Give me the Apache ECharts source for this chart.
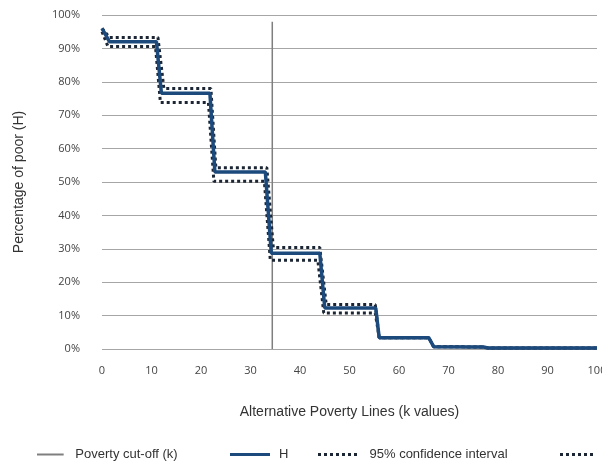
<!DOCTYPE html>
<html>
<head>
<meta charset="utf-8">
<script src="https://cdn.jsdelivr.net/npm/echarts@6/dist/echarts.min.js"></script>
<style>
html,body{margin:0;padding:0;background:#fff;}
#c{width:602px;height:463px;}
</style>
</head>
<body>
<div id="c"></div>
<script>
// Data
var cutoffK = 34.4;
var cutoffTop = 98;
var hK     = [0, 1.5, 11, 12, 21.8, 22.8, 33, 34.2, 44, 45, 55.3, 56, 66, 67, 77, 78, 100];
var hVal   = [96, 92, 92, 76.6, 76.6, 53, 53, 28.7, 28.7, 12.3, 12.3, 3.4, 3.4, 0.7, 0.6, 0.3, 0.3];
var upK    = [0, 1.5, 11.3, 12.5, 22, 23, 33.3, 34.6, 44, 45.3, 55.2, 56, 66, 67, 77, 78, 100];
var upVal  = [96, 93.3, 93.3, 78, 78, 54.3, 54.3, 30.4, 30.4, 13.3, 13.3, 3.4, 3.4, 0.7, 0.6, 0.3, 0.3];
var loK    = [0, 1.2, 10.8, 11.8, 21.5, 22.6, 32.8, 34, 43.6, 44.8, 55.2, 56, 66, 67, 77, 78, 100];
var loVal  = [95, 90.6, 90.6, 73.8, 73.8, 50.2, 50.2, 26.6, 26.6, 10.8, 10.8, 3.4, 3.4, 0.7, 0.6, 0.3, 0.3];
var xTicks = [0, 10, 20, 30, 40, 50, 60, 70, 80, 90, 100];
var yTicks = [0, 10, 20, 30, 40, 50, 60, 70, 80, 90, 100];

function pairs(xs, ys){ return xs.map(function(x,i){ return [x, ys[i]]; }); }

var chart = echarts.init(document.getElementById('c'));
var dotColor = '#1b2533';
var hColor = '#1c4a7c';
var lblFont = '"Open Sans", "DejaVu Sans", sans-serif';
function legendText(padLeft){
  return {fontFamily: '"Liberation Sans", Arial, sans-serif', fontSize: 13, color: '#333', padding: [0, 0, 0, padLeft]};
}
var solidIcon = 'path://M0,0L40,0L40,3L0,3Z';
var dotIcon = 'path://M0,0h3v3h-3z M6,0h3v3h-3z M12,0h3v3h-3z M18,0h3v3h-3z M24,0h3v3h-3z M30,0h3v3h-3z M36,0h3v3h-3z';
var dotIcon6 = 'path://M0,0h3v3h-3z M6,0h3v3h-3z M12,0h3v3h-3z M18,0h3v3h-3z M24,0h3v3h-3z M30,0h3v3h-3z';
chart.setOption({
  animation: false,
  backgroundColor: '#fff',
  grid: {left: 102, right: 5, top: 15, bottom: 114, containLabel: false, outerBoundsMode: 'none'},
  xAxis: {
    type: 'value', min: 0, max: 100, interval: 10,
    axisLine: {show: false}, axisTick: {show: false},
    splitLine: {show: false},
    axisLabel: {margin: 16, fontSize: 11, color: '#444', fontFamily: lblFont,
      formatter: function(v){ return xTicks.indexOf(v) >= 0 ? String(v) : ''; }},
    name: 'Alternative Poverty Lines (k values)',
    nameLocation: 'middle', nameGap: 56,
    nameTextStyle: {fontSize: 14, color: '#333', fontFamily: '"Liberation Sans", Arial, sans-serif'}
  },
  yAxis: {
    type: 'value', min: 0, max: 100, interval: 10,
    axisLine: {show: false}, axisTick: {show: false},
    splitLine: {show: true, lineStyle: {color: '#a6a6a6', width: 1}},
    axisLabel: {margin: 22, fontSize: 11, color: '#444', fontFamily: lblFont,
      formatter: function(v){ return yTicks.indexOf(v) >= 0 ? v + '%' : ''; }},
    name: 'Percentage of poor (H)',
    nameLocation: 'middle', nameGap: 76,
    nameTextStyle: {fontSize: 14, color: '#333', fontFamily: '"Liberation Sans", Arial, sans-serif'}
  },
  legend: [
    {data: [{name: 'Poverty cut-off (k)', icon: solidIcon, itemStyle: {color: '#7f7f7f'}}], left: 32, top: 443, itemWidth: 30, itemHeight: 2, textStyle: legendText(5)},
    {data: [{name: 'H', icon: solidIcon, itemStyle: {color: hColor}}], left: 225, top: 443, itemWidth: 48, itemHeight: 3, itemGap: 0, textStyle: legendText(0)},
    {data: [{name: '95% confidence interval', icon: dotIcon, itemStyle: {color: dotColor}}], left: 313, top: 443, itemWidth: 52, itemHeight: 3, textStyle: legendText(1)},
    {data: [{name: ' ', icon: dotIcon6, itemStyle: {color: dotColor}}], left: 555, top: 443, itemWidth: 44, itemHeight: 3, textStyle: legendText(0)}
  ],
  series: [
    {name: 'Poverty cut-off (k)', type: 'line', symbol: 'none', z: 1,
     data: [[cutoffK, 0], [cutoffK, cutoffTop]],
     lineStyle: {color: '#7f7f7f', width: 1.5}, itemStyle: {color: '#7f7f7f'}},
    {name: '95% confidence interval', type: 'line', symbol: 'none', z: 2,
     data: pairs(upK, upVal),
     lineStyle: {color: dotColor, width: 3, type: [3, 3]}, itemStyle: {color: dotColor}},
    {name: ' ', type: 'line', symbol: 'none', z: 2,
     data: pairs(loK, loVal),
     lineStyle: {color: dotColor, width: 3, type: [3, 3]}, itemStyle: {color: dotColor}},
    {name: 'H', type: 'line', symbol: 'none', z: 3,
     data: pairs(hK, hVal),
     lineStyle: {color: hColor, width: 3.5}, itemStyle: {color: hColor}}
  ]
});
</script>
</body>
</html>
